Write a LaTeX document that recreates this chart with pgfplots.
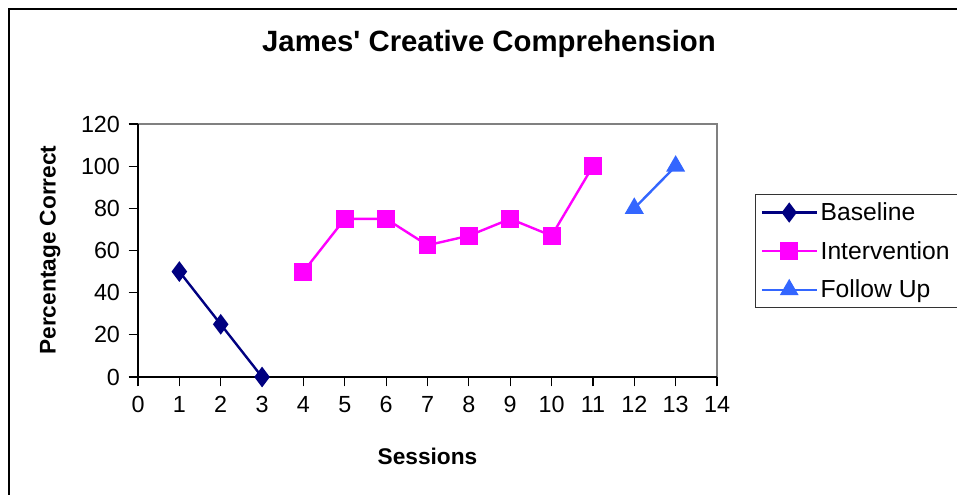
\documentclass[border=0pt]{standalone}
\usepackage{pgfplots}
\pgfplotsset{compat=1.18}
\usepackage{fontspec}
\setmainfont{Liberation Sans}

\definecolor{basecol}{RGB}{0,0,128}
\definecolor{intcol}{RGB}{255,0,255}
\definecolor{followcol}{RGB}{51,102,255}
\definecolor{boxgray}{RGB}{128,128,128}

\begin{document}
\begin{tikzpicture}
% canvas: 957 x 494 px, 1 px = 0.75pt
\path[use as bounding box] (0,0) rectangle ({957*0.75pt},{494*0.75pt});
\draw[line width=1.5pt] ({8.5*0.75pt},{-5pt}) -- ({8.5*0.75pt},{485*0.75pt}) -- ({970*0.75pt},{485*0.75pt});
\node[font=\fontsize{22}{26}\selectfont\bfseries] at ({489*0.75pt},{450*0.75pt}) {James\textquotesingle\ Creative Comprehension};

\begin{axis}[
    at={({138*0.75pt},{117*0.75pt})}, anchor=south west,
    scale only axis,
    width={579*0.75pt}, height={253*0.75pt},
    xmin=0, xmax=14, ymin=0, ymax=120,
    xtick={0,1,...,14}, ytick={0,20,...,120},
    axis x line*=bottom, axis y line*=left,
    axis line style={-, black, line width=1.1pt},
    axis background/.style={draw=boxgray, line width=1.5pt},
    tick align=outside,
    major tick length=7pt,
    tick style={black, line width=0.9pt},
    /pgf/number format/assume math mode=true,
    ticklabel style={font=\fontsize{17.5}{20}\selectfont},
    xticklabel style={yshift=-4pt},
    yticklabel style={xshift=-3pt},
    xlabel={Sessions},
    ylabel={Percentage Correct},
    label style={font=\fontsize{17}{20}\selectfont\bfseries},
    xlabel style={at={(axis description cs:0.5,-0.312)}, anchor=center},
    ylabel style={at={(axis description cs:-0.152,0.502)}, anchor=center, rotate=0},
    legend style={at={(axis description cs:1.0656,0.723)}, anchor=north west,
        draw=black!80, line width=0.8pt, font=\fontsize{18.5}{22}\selectfont,
        row sep=10pt, inner xsep=4pt, inner ysep=4pt},
    legend cell align=left,
    legend image code/.code={
        \draw[#1, line width=1.6pt] (0cm,0cm) -- (0.72cm,0cm) plot coordinates {(0.72cm,0cm)} -- (1.45cm,0cm);
    },
    clip=false,
]
\addplot[color=basecol, line width=1.8pt, mark=diamond*, mark size=6.3pt, mark options={solid, fill=basecol}]
    coordinates {(1,50) (2,25) (3,0)};
\addlegendentry{Baseline}
\addplot[color=intcol, line width=1.8pt, mark=square*, mark size=5.8pt, mark options={solid, fill=intcol}]
    coordinates {(4,50) (5,75) (6,75) (7,62.5) (8,67) (9,75) (10,67) (11,100)};
\addlegendentry{Intervention}
\addplot[color=followcol, line width=1.8pt, mark=triangle*, mark size=6.5pt, mark options={solid, fill=followcol}]
    coordinates {(12,80) (13,100)};
\addlegendentry{Follow Up}
\end{axis}
\end{tikzpicture}
\end{document}
